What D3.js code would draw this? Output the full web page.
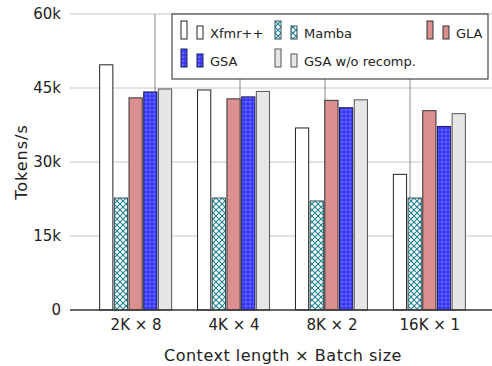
<!DOCTYPE html>
<html>
<head>
<meta charset="utf-8">
<script src="https://cdn.jsdelivr.net/npm/d3@7"></script>
<style>
  body { margin: 0; background: #fff; }
  text { font-family: "DejaVu Sans", sans-serif; fill: #222; }
</style>
</head>
<body>
<div class="chart"></div>
<script>
// data (tokens/s, thousands)
var groups = ["2K \u00d7 8", "4K \u00d7 4", "8K \u00d7 2", "16K \u00d7 1"];
var series = ["Xfmr++", "Mamba", "GLA", "GSA", "GSA w/o recomp."];
var xfmr = [49.7, 44.6, 36.9, 27.5];
var mamba = [22.7, 22.7, 22.1, 22.7];
var gla = [43.0, 42.8, 42.5, 40.4];
var gsa = [44.2, 43.2, 41.0, 37.2];
var gsaNoRecomp = [44.8, 44.3, 42.6, 39.8];
var yTicks = [0, 15, 30, 45, 60];
var yTickLabels = ["0", "15k", "30k", "45k", "60k"];

var values = [xfmr, mamba, gla, gsa, gsaNoRecomp];

var svgWidth = 492;
var svgHeight = 366;

var svg = d3.select(".chart")
  .append("svg")
  .attr("width", svgWidth)
  .attr("height", svgHeight);

// patterns for Mamba and GSA
var defs = svg.append("defs");
var hatch = defs.append("pattern")
  .attr("id", "hatch")
  .attr("patternUnits", "userSpaceOnUse")
  .attr("width", 6).attr("height", 6);
hatch.append("rect").attr("width", 6).attr("height", 6).attr("fill", "#fff");
hatch.append("path")
  .attr("d", "M0,0L6,6M6,0L0,6")
  .attr("stroke", "#1f7f93").attr("stroke-width", 1.1);

var dots = defs.append("pattern")
  .attr("id", "dots")
  .attr("patternUnits", "userSpaceOnUse")
  .attr("width", 4).attr("height", 4);
dots.append("rect").attr("width", 4).attr("height", 4).attr("fill", "#3636fa");
dots.append("circle").attr("cx", 2).attr("cy", 2).attr("r", 1)
  .attr("fill", "none").attr("stroke", "#9c9cff").attr("stroke-width", 0.5);

var fills = ["#ffffff", "url(#hatch)", "#dc8f8f", "url(#dots)", "#e6e6e6"];
var strokes = ["#222", "#2a4f58", "#333", "#1c1c5a", "#555"];

// scales
var x0 = d3.scalePoint()
  .domain(groups)
  .range([72, 493])
  .padding(0.65);

var x1 = d3.scaleBand()
  .domain(series)
  .range([-36, 36])
  .paddingInner(0.1);

var y = d3.scaleLinear()
  .domain([0, 60])
  .range([310, 14]);

// horizontal grid
svg.append("g")
  .selectAll("line")
  .data(yTicks.slice(1))
  .enter()
  .append("line")
  .attr("x1", 70).attr("x2", 492)
  .attr("y1", d => y(d)).attr("y2", d => y(d))
  .attr("stroke", "#dadada")
  .attr("stroke-width", 1.5);

// the thin vertical lines behind the bars
var xg = d3.scaleLinear().domain([0, 5]).range([70, 495]);
svg.append("g")
  .selectAll("line")
  .data([1, 2, 3, 4])
  .enter()
  .append("line")
  .attr("x1", d => xg(d)).attr("x2", d => xg(d))
  .attr("y1", 14).attr("y2", 310)
  .attr("stroke", "#8a8a8a")
  .attr("stroke-width", 1);

// bars
var barGroups = svg.append("g")
  .selectAll("g")
  .data(series)
  .enter()
  .append("g");

barGroups.selectAll("rect")
  .data((s, i) => values[i].map((v, j) => ({ s: s, i: i, g: groups[j], v: v })))
  .enter()
  .append("rect")
  .attr("x", d => x0(d.g) + x1(d.s))
  .attr("y", d => y(d.v))
  .attr("width", x1.bandwidth())
  .attr("height", d => y(0) - y(d.v))
  .attr("fill", d => fills[d.i])
  .attr("stroke", d => strokes[d.i])
  .attr("stroke-width", 1);

// y axis (labels only, no line)
var leftAxis = d3.axisLeft(y)
  .tickValues(yTicks)
  .tickFormat((d, i) => yTickLabels[i])
  .tickSize(0)
  .tickPadding(9);

var yAxisG = svg.append("g")
  .attr("transform", "translate(70,0)")
  .call(leftAxis);
yAxisG.select(".domain").remove();
yAxisG.selectAll("text")
  .style("font-family", "DejaVu Sans, sans-serif")
  .style("font-size", "15px")
  .attr("fill", "#222");

// baseline
svg.append("line")
  .attr("x1", 70).attr("x2", 492)
  .attr("y1", y(0)).attr("y2", y(0))
  .attr("stroke", "#333")
  .attr("stroke-width", 1.5);

// x axis labels
var bottomAxis = d3.axisBottom(x0).tickSize(0).tickPadding(9);
var xAxisG = svg.append("g")
  .attr("transform", `translate(0, ${y(0)})`)
  .call(bottomAxis);
xAxisG.select(".domain").remove();
xAxisG.selectAll("text")
  .style("font-family", "DejaVu Sans, sans-serif")
  .style("font-size", "15px")
  .attr("fill", "#222");

// axis titles
svg.append("text")
  .attr("x", 283)
  .attr("y", 361)
  .attr("text-anchor", "middle")
  .style("font-size", "16px")
  .style("letter-spacing", "0.5px")
  .text("Context length \u00d7 Batch size");

svg.append("text")
  .attr("transform", "translate(27,162) rotate(-90)")
  .attr("text-anchor", "middle")
  .style("font-size", "16px")
  .style("letter-spacing", "1px")
  .text("Tokens/s");

// legend
var legend = svg.append("g");
legend.append("rect")
  .attr("x", 172).attr("y", 14)
  .attr("width", 316).attr("height", 65)
  .attr("fill", "#fff")
  .attr("stroke", "#222")
  .attr("stroke-width", 1);

var legendX = [181, 275, 427, 181, 275];
var legendBottom = [39, 39, 39, 67, 67];

var items = legend.selectAll(".item")
  .data(series)
  .enter()
  .append("g")
  .attr("class", "item")
  .attr("transform", (d, i) => `translate(${legendX[i]}, ${legendBottom[i]})`);

items.append("rect")
  .attr("x", 0).attr("y", -18)
  .attr("width", 6).attr("height", 18)
  .attr("fill", (d, i) => fills[i])
  .attr("stroke", (d, i) => strokes[i]);

items.append("rect")
  .attr("x", 16).attr("y", -13)
  .attr("width", 6).attr("height", 13)
  .attr("fill", (d, i) => fills[i])
  .attr("stroke", (d, i) => strokes[i]);

items.append("text")
  .attr("x", 29)
  .attr("y", -1)
  .style("font-size", "13px")
  .text(d => d);
</script>
</body>
</html>
